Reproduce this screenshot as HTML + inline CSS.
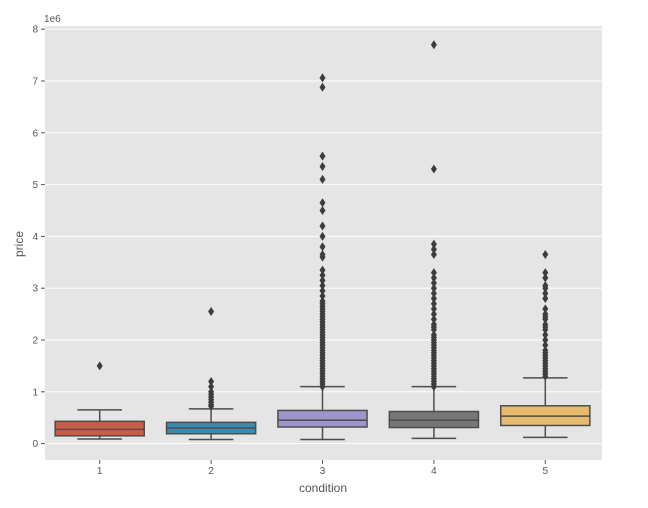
<!DOCTYPE html>
<html><head><meta charset="utf-8"><style>
body{margin:0;background:#fff;font-family:"Liberation Sans",sans-serif;}
svg text{font-family:"Liberation Sans",sans-serif;}
</style></head><body>
<svg id="chart" width="648" height="503" xmlns="http://www.w3.org/2000/svg">
<rect x="45" y="26" width="557" height="434" fill="#e5e5e5"/>
<g id="grid"></g><g id="marks"></g><g id="axes"></g>
<text x="44" y="22" font-size="10" fill="#555">1e6</text>
<text x="323" y="492" font-size="12" fill="#555" text-anchor="middle">condition</text>
<text transform="translate(23,244) rotate(-90)" font-size="12" fill="#555" text-anchor="middle">price</text>
</svg>
<script>
const categories=["1","2","3","4","5"];
const q1=[0.15,0.19,0.32,0.31,0.35];
const med=[0.275,0.30,0.45,0.45,0.53];
const q3=[0.43,0.41,0.64,0.62,0.73];
const whiskLo=[0.09,0.08,0.08,0.10,0.12];
const whiskHi=[0.65,0.67,1.10,1.10,1.27];
const dense3=[1.1,1.15,1.2,1.25,1.3,1.35,1.4,1.45,1.5,1.55,1.6,1.65,1.7,1.75,1.8,1.85,1.9,1.95,2.0,2.05,2.1,2.15,2.2,2.25,2.3,2.35,2.4,2.45,2.5,2.55,2.6,2.65,2.7,2.75];
const dense4=[1.1,1.15,1.2,1.25,1.3,1.35,1.4,1.45,1.5,1.55,1.6,1.65,1.7,1.75,1.8,1.85,1.9,1.95,2.0,2.05,2.1,2.2,2.25,2.3,2.4,2.5,2.6,2.7,2.8];
const dense5=[1.3,1.35,1.4,1.45,1.5,1.55,1.6,1.65,1.7,1.75,1.8,1.9,2.0,2.1,2.2,2.25,2.3,2.4,2.45,2.5];
const outliers=[
 [1.5],
 [2.55,1.2,1.1,1.0,0.95,0.9,0.85,0.8,0.75,0.72],
 dense3.concat([2.85,2.95,3.05,3.15,3.25,3.35,3.6,3.65,3.8,4.0,4.2,4.5,4.65,5.1,5.35,5.55,6.88,7.06]),
 dense4.concat([2.9,3.0,3.1,3.2,3.3,3.65,3.75,3.85,5.3,7.7]),
 dense5.concat([2.6,2.8,2.9,3.0,3.05,3.2,3.3,3.65])
];
const yTicks=[0,1,2,3,4,5,6,7,8];
const colors=["#ce5a47","#3d89b1","#9d95cc","#777777","#e7bb6d"];
const NS="http://www.w3.org/2000/svg";
const X0=45,X1=602,band=(X1-X0)/categories.length;
const xc=i=>X0-1+band*(i+0.5);
const y=v=>443.6-v*51.8;
function mk(tag,attrs,parent){const e=document.createElementNS(NS,tag);for(const k in attrs)e.setAttribute(k,attrs[k]);document.getElementById(parent).appendChild(e);return e;}
yTicks.forEach(t=>{
 const g=mk('line',{x1:X0,x2:X1,y1:y(t),y2:y(t),stroke:'#fff','stroke-width':1},'grid');
 
 
 const tk=mk('line',{x1:X0-4,x2:X0,y1:y(t),y2:y(t),stroke:'#555'},'axes');
 
 
 const tx=mk('text',{x:X0-7,y:y(t)+3.5,'font-size':10,fill:'#555','text-anchor':'end'},'axes');
 tx.textContent=t;
 
 
});
const bw=band*0.8,cap=bw/2,ec='#4d4d4d';
categories.forEach((c,i)=>{
 const cx=xc(i);
 const tk=mk('line',{x1:cx,x2:cx,y1:460,y2:464,stroke:'#555'},'axes');
 
 
 const tx=mk('text',{x:cx,y:474,'font-size':10,fill:'#555','text-anchor':'middle'},'axes');
 tx.textContent=c;
 
 
 const w1=mk('line',{x1:cx,x2:cx,y1:y(q1[i]),y2:y(whiskLo[i]),stroke:ec,'stroke-width':1.5},'marks');
 
 
 const w2=mk('line',{x1:cx,x2:cx,y1:y(q3[i]),y2:y(whiskHi[i]),stroke:ec,'stroke-width':1.5},'marks');
 
 
 [whiskLo[i],whiskHi[i]].forEach(v=>{
  const cp=mk('line',{x1:cx-cap/2,x2:cx+cap/2,y1:y(v),y2:y(v),stroke:ec,'stroke-width':1.5},'marks');
  
  
 });
 const b=mk('rect',{x:cx-bw/2,y:y(q3[i]),width:bw,height:y(q1[i])-y(q3[i]),fill:colors[i],stroke:ec,'stroke-width':1.5},'marks');
 
 
 const m=mk('line',{x1:cx-bw/2,x2:cx+bw/2,y1:y(med[i]),y2:y(med[i]),stroke:ec,'stroke-width':1.5},'marks');
 
 
 outliers[i].forEach(v=>{
  const py=y(v);
  const d=mk('polygon',{points:`${cx},${py-4.5} ${cx+3},${py} ${cx},${py+4.5} ${cx-3},${py}`,fill:'#3d3d3d'},'marks');
  
  
 });
});
</script>
</body></html>
